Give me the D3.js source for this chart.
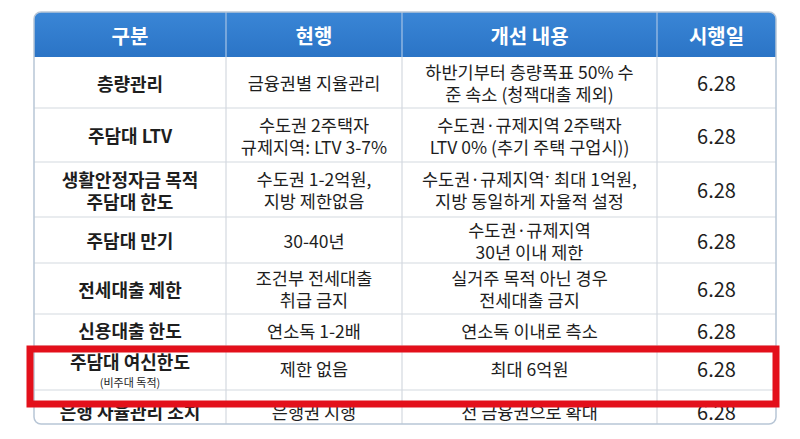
<!DOCTYPE html>
<html><head><meta charset="utf-8">
<script src="https://cdn.jsdelivr.net/npm/d3@7"></script>
<style>body{margin:0;background:#fff}</style>
</head><body><div id="chart"></div>
<script>
const headers = ['구분', '현행', '개선 내용', '시행일']
const categories = [['층량관리'], ['주담대 LTV'], ['생활안정자금 목적', '주담대 한도'], ['주담대 만기'], ['전세대출 제한'], ['신용대출 한도'], ['주담대 여신한도'], ['은행 자율관리 조치']]
const current = [['금융권별 지율관리'], ['수도권 2주택자', '규제지역: LTV 3-7%'], ['수도권 1-2억원,', '지방 제한없음'], ['30-40년'], ['조건부 전세대출', '취급 금지'], ['연소독 1-2배'], ['제한 없음'], ['은행권 시행']]
const improvement = [['하반기부터 층량폭표 50% 수', '준 속소 (청잭대출 제외)'], ['수도권·규제지역 2주택자', 'LTV 0% (추기 주택 구업시))'], ['수도권·규제지역ˑ 최대 1억원,', '지방 동일하게 자율적 설정'], ['수도권·규제지역', '30년 이내 제한'], ['실거주 목적 아닌 경우', '전세대출 금지'], ['연소독 이내로 측소'], ['최대 6억원'], ['전 금융권으로 확대']]
const dates = ['6.28', '6.28', '6.28', '6.28', '6.28', '6.28', '6.28', '6.28']

// layout
const W = 800, H = 439
const colEdges = [34, 226, 402, 657, 776]
const rowEdges = [12, 57, 108, 162, 217, 263, 314, 346, 390, 432]
const tableBottom = 424

const svg = d3.select('#chart').append('svg').attr('width', W).attr('height', H)
    .style('font-family', '"Noto Sans CJK KR", "Noto Sans", sans-serif')

const defs = svg.append('defs')
defs.append('clipPath').attr('id', 'clip').append('rect')
    .attr('x', colEdges[0]).attr('y', rowEdges[0]).attr('width', colEdges[4] - colEdges[0])
    .attr('height', tableBottom - rowEdges[0]).attr('rx', 7)
const grad = defs.append('linearGradient').attr('id', 'hd').attr('x1', 0).attr('y1', 0).attr('x2', 0).attr('y2', 1)
grad.append('stop').attr('offset', 0).attr('stop-color', '#3a86d6')
grad.append('stop').attr('offset', 1).attr('stop-color', '#2b74c6')

const g = svg.append('g').attr('clip-path', 'url(#clip)')
g.append('rect').attr('x', colEdges[0]).attr('y', rowEdges[0]).attr('width', colEdges[4] - colEdges[0])
    .attr('height', tableBottom - rowEdges[0]).attr('fill', '#fff')
g.append('rect').attr('x', colEdges[0]).attr('y', rowEdges[0]).attr('width', colEdges[4] - colEdges[0])
    .attr('height', rowEdges[1] - rowEdges[0]).attr('fill', 'url(#hd)')

// grid lines
g.selectAll('line.h').data(rowEdges.slice(2, -1)).join('line')
    .attr('x1', colEdges[0]).attr('x2', colEdges[4]).attr('y1', d => d).attr('y2', d => d)
    .attr('stroke', '#d4d9e0').attr('stroke-width', 1.2)
g.selectAll('line.v').data(colEdges.slice(1, -1)).join('line')
    .attr('x1', d => d).attr('x2', d => d).attr('y1', rowEdges[0]).attr('y2', tableBottom)
    .attr('stroke', '#d4d9e0').attr('stroke-width', 1.2)
g.selectAll('line.vh').data(colEdges.slice(1, -1)).join('line')
    .attr('x1', d => d).attr('x2', d => d).attr('y1', rowEdges[0]).attr('y2', rowEdges[1])
    .attr('stroke', '#5d9ae0').attr('stroke-width', 1)

const cx = i => (colEdges[i] + colEdges[i + 1]) / 2
const cy = i => (rowEdges[i + 1] + rowEdges[i + 2]) / 2

g.selectAll('text.hd').data(headers).join('text')
    .attr('x', (d, i) => cx(i)).attr('y', (rowEdges[0] + rowEdges[1]) / 2 + 1)
    .attr('text-anchor', 'middle').attr('dominant-baseline', 'central')
    .attr('fill', '#fff').attr('font-size', 20).attr('font-weight', 700).text(d => d)

function cellText(lines, col, row, bold, size) {
    const lh = 22
    const t = g.append('text').attr('text-anchor', 'middle').attr('fill', '#1e1e1e')
        .attr('font-size', size || 18).attr('font-weight', bold ? 700 : 400)
    lines.forEach((l, k) => {
        t.append('tspan').attr('x', cx(col))
            .attr('y', cy(row) + (k - (lines.length - 1) / 2) * lh)
            .attr('dominant-baseline', 'central').text(l)
    })
    return t
}

categories.forEach((d, i) => {
    const t = cellText(d, 0, i, true)
    if (i === 6) {
        t.selectAll('tspan').attr('y', cy(i) - 7)
        g.append('text').attr('x', cx(0)).attr('y', cy(i) + 14).attr('text-anchor', 'middle')
            .attr('dominant-baseline', 'central').attr('font-size', 11).attr('fill', '#1e1e1e').text('(비주대 독적)')
    }
})
current.forEach((d, i) => cellText(d, 1, i, false, 17.5))
improvement.forEach((d, i) => cellText(d, 2, i, false, 17.5))
dates.forEach((d, i) => cellText([d], 3, i, false, 20))

// outer border
svg.append('rect').attr('x', colEdges[0]).attr('y', rowEdges[0]).attr('width', colEdges[4] - colEdges[0])
    .attr('height', tableBottom - rowEdges[0]).attr('rx', 7).attr('fill', 'none')
    .attr('stroke', '#b8c6d6').attr('stroke-width', 1.5)

// highlight box
svg.append('rect').attr('x', 30).attr('y', 349).attr('width', 746).attr('height', 55)
    .attr('fill', 'none').attr('stroke', '#e3101b').attr('stroke-width', 7)
</script></body></html>
